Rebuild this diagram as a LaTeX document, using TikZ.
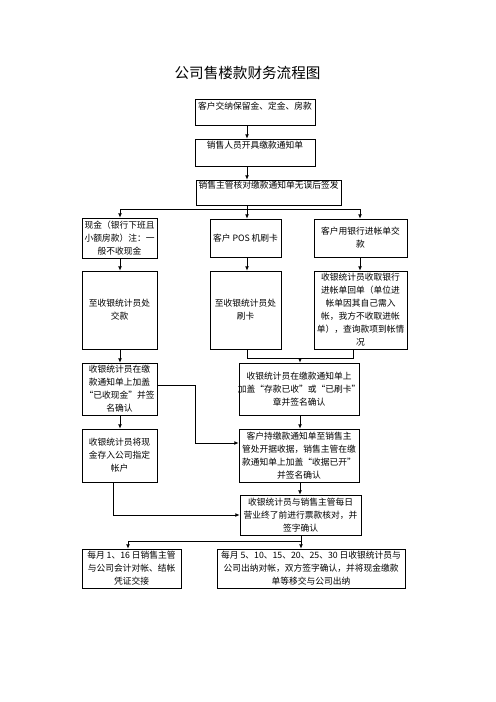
\documentclass[tikz,border=0pt]{standalone}
\usepackage{fontspec}
\setmainfont{Noto Sans CJK SC}
\usetikzlibrary{arrows.meta,fit,calc}
\begin{document}
\begin{tikzpicture}[x=1.2pt,y=-1.2pt,
  box/.style={draw, line width=0.9pt, inner sep=0pt, fit={#1}},
  txt/.style={font=\fontsize{10.5}{15.6}\selectfont, align=center, inner sep=0pt},
  line/.style={draw, line width=0.9pt},
  arr/.style={line, -{Latex[length=5pt,width=4.5pt]}}]
\useasboundingbox (0,0) rectangle (496,702);
\node[font=\fontsize{17.5}{20}\selectfont, inner sep=0pt] (title) at (247.5,73) {公司售楼款财务流程图};

\node[box={(195,99)(315,125)}] (b1) {};
\node[txt] (t1) at ($(b1.north)+(0,8)$) {客户交纳保留金、定金、房款};
\node[box={(195,139)(315,166)}] (b2) {};
\node[txt] (t2) at ($(b2.north)+(0,7)$) {销售人员开具缴款通知单};
\node[box={(196,180)(341,205)}] (b3) {};
\node[txt] (t3) at ($(b3.north)+(0,6)$) {销售主管核对缴款通知单无误后签发};

\node[box={(82,218)(157,258)}] (b4a) {};
\node[txt] (t4a) at (b4a) {现金（银行下班且\\小额房款）注：一\\般不收现金};
\node[box={(210,219)(281,257)}] (b4b) {};
\node[txt] (t4b) at (b4b) {客户 POS 机刷卡};
\node[box={(314,219)(407,257)}] (b4c) {};
\node[txt] (t4c) at (b4c) {客户用银行进帐单交\\款};

\node[box={(82,271)(157,349)}] (b5a) {};
\node[txt] (t5a) at (b5a) {至收银统计员处\\交款};
\node[box={(210,271)(281,349)}] (b5b) {};
\node[txt] (t5b) at (b5b) {至收银统计员处\\刷卡};
\node[box={(314,271)(407,349)}] (b5c) {};
\node[txt] (t5c) at (b5c) {收银统计员收取银行\\进帐单回单（单位进\\帐单因其自己需入\\帐，我方不收取进帐\\单），查询款项到帐情\\况};

\node[box={(82,363)(157,415)}] (b6a) {};
\node[txt] (t6a) at (b6a) {收银统计员在缴\\款通知单上加盖\\“已收现金”并签\\名确认};
\node[box={(239,363)(359,415)}] (b6b) {};
\node[txt] (t6b) at (b6b) {收银统计员在缴款通知单上\\加盖“存款已收”或“已刷卡”\\章并签名确认};

\node[box={(82,429)(157,482)}] (b7a) {};
\node[txt] (t7a) at (b7a) {收银统计员将现\\金存入公司指定\\帐户};
\node[box={(239,429)(359,482)}] (b7b) {};
\node[txt] (t7b) at (b7b) {客户持缴款通知单至销售主\\管处开据收据，销售主管在缴\\款通知单上加盖“收据已开”\\并签名确认};

\node[box={(240,495)(361,535)}] (b8) {};
\node[txt] (t8) at (b8) {收银统计员与销售主管每日\\营业终了前进行票款核对，并\\签字确认};

\node[box={(82,549)(181,588)}] (b9a) {};
\node[txt] (t9a) at (b9a) {每月 1、16 日销售主管\\与公司会计对帐、结帐\\凭证交接};
\node[box={(217,549)(405,588)}] (b9b) {};
\node[txt] (t9b) at (b9b) {每月 5、10、15、20、25、30 日收银统计员与\\公司出纳对帐，双方签字确认，并将现金缴款\\单等移交与公司出纳};

% connectors
\coordinate (xm) at (247,0);
\coordinate (jl) at (120,209);
\coordinate (jr) at (360,209);
\draw[arr] (b1.south -| xm) -- (b2.north -| xm);
\draw[arr] (b2.south -| xm) -- (b3.north -| xm);
\draw[line] (b3.south -| xm) -- (xm |- jl);
\draw[line] (jl) -- (jr);
\draw[arr] (jl) -- (b4a.north -| jl);
\draw[arr] (xm |- jl) -- (b4b.north -| xm);
\draw[arr] (jr) -- (b4c.north -| jr);

\draw[arr] (b4a.south -| jl) -- (b5a.north -| jl);
\draw[arr] (b4b.south -| xm) -- (b5b.north -| xm);
\draw[arr] (b4c.south -| jr) -- (b5c.north -| jr);

\draw[arr] (b5a.south -| jl) -- (b6a.north -| jl);
\coordinate (ja) at (247,358);
\coordinate (jb) at (353,358);
\coordinate (jc) at (300,358);
\draw[line] (b5b.south -| ja) -- (ja) -- (jb) -- (b5c.south -| jb);
\draw[arr] (jc) -- (b6b.north -| jc);

\draw[arr] (b6b.south -| jc) -- (b7b.north -| jc);
\coordinate (k1) at (195,385);
\coordinate (k2) at (195,443);
\draw[arr] (b6a.east |- k1) -- (k1) -- (k2) -- (b7b.west |- k2);
\draw[arr] (b6a.south -| jl) -- (b7a.north -| jl);

\coordinate (m1) at (113,515);
\draw[arr] (b7a.south -| m1) -- (m1) -- (b8.west |- m1);
\draw[arr] (b7b.south -| jc) -- (b8.north -| jc);

\coordinate (n1) at (301,541);
\coordinate (n2) at (128,541);
\draw[line] (b8.south -| n1) -- (n1) -- (n2);
\draw[arr] (n2) -- (b9a.north -| n2);
\draw[arr] (n1) -- (b9b.north -| n1);
\end{tikzpicture}
\end{document}
